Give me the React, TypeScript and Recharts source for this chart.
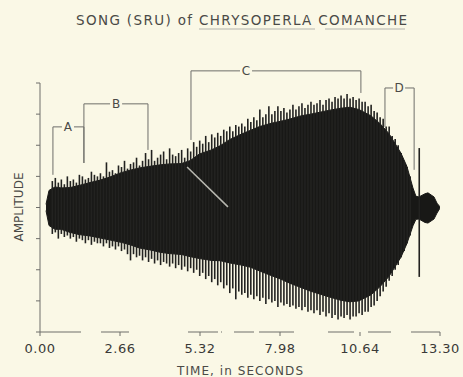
import React from 'react';
import { ComposedChart, Area, Bar, XAxis, YAxis, ReferenceLine, ReferenceDot } from 'recharts';

// Solid body of the waveform envelope (seconds, amplitude units)
const bodyTimes = [0.2, 0.3, 0.5, 0.7, 1.0, 1.3, 1.7, 2.0, 2.3, 2.7, 3.0, 3.3, 3.7, 4.0, 4.3, 4.7, 5.0, 5.3, 5.7, 6.0, 6.3, 6.7, 7.0, 7.3, 7.7, 8.0, 8.3, 8.7, 9.0, 9.3, 9.6, 10.0, 10.3, 10.6, 11.0, 11.3, 11.6, 12.0, 12.2, 12.4, 12.5, 12.6, 12.8, 12.9, 13.1, 13.2, 13.3];
const bodyTops = [0.1, 0.55, 0.66, 0.63, 0.64, 0.71, 0.81, 0.88, 0.97, 1.12, 1.2, 1.27, 1.33, 1.37, 1.4, 1.41, 1.51, 1.72, 1.85, 1.99, 2.18, 2.36, 2.48, 2.6, 2.71, 2.77, 2.84, 2.95, 3.0, 3.06, 3.12, 3.19, 3.22, 3.15, 2.95, 2.7, 2.38, 1.75, 1.32, 0.63, 0.36, 0.34, 0.44, 0.47, 0.34, 0.14, 0.02];
const bodyBottoms = [-0.1, -0.58, -0.7, -0.7, -0.8, -0.87, -0.92, -0.98, -1.04, -1.12, -1.2, -1.3, -1.37, -1.44, -1.48, -1.51, -1.58, -1.64, -1.7, -1.71, -1.78, -1.85, -1.92, -2.04, -2.19, -2.3, -2.43, -2.58, -2.69, -2.78, -2.87, -2.98, -3.03, -3.0, -2.81, -2.55, -2.22, -1.6, -1.16, -0.59, -0.38, -0.37, -0.48, -0.5, -0.37, -0.18, -0.02];

// Individual oscillation spikes (full vertical extent)
const spikeTimes = [
  0.4, 0.5, 0.6, 0.7, 0.8, 0.9,
  1.0, 1.1, 1.2, 1.3, 1.4, 1.5, 1.6, 1.7, 1.8, 1.9,
  2.0, 2.1, 2.2, 2.3, 2.4, 2.5, 2.6, 2.7, 2.8, 2.9,
  3.0, 3.1, 3.2, 3.3, 3.4, 3.5, 3.6, 3.7, 3.8, 3.9,
  4.0, 4.1, 4.2, 4.3, 4.4, 4.5, 4.6, 4.7, 4.8, 4.9,
  5.0, 5.1, 5.2, 5.3, 5.4, 5.5, 5.6, 5.7, 5.8, 5.9,
  6.0, 6.1, 6.2, 6.3, 6.4, 6.5, 6.6, 6.7, 6.8, 6.9,
  7.0, 7.1, 7.2, 7.3, 7.4, 7.5, 7.6, 7.7, 7.8, 7.9,
  8.0, 8.1, 8.2, 8.3, 8.4, 8.5, 8.6, 8.7, 8.8, 8.9,
  9.0, 9.1, 9.2, 9.3, 9.4, 9.5, 9.6, 9.7, 9.8, 9.9,
  10.0, 10.1, 10.2, 10.3, 10.4, 10.5, 10.6, 10.7, 10.8, 10.9,
  11.0, 11.1, 11.2, 11.3, 11.4, 11.5, 11.6, 11.7, 11.8, 11.9,
  12.0, 12.1, 12.2, 12.3, 12.6,
];
const spikeTops = [
  0.85, 0.95, 0.8, 0.9, 0.75, 1.0,
  0.85, 0.9, 0.8, 1.05, 1.0, 0.9, 0.95, 1.15, 1.05, 1.0,
  1.1, 1.0, 1.45, 1.15, 1.2, 1.1, 1.35, 1.3, 1.5, 1.25,
  1.4, 1.45, 1.6, 1.35, 1.5, 1.75, 1.55, 1.85, 1.5, 1.6,
  1.7, 1.8, 1.55, 1.9, 1.7, 1.65, 1.75, 1.85, 1.6, 1.9,
  1.8, 2.1, 1.95, 2.15, 2.05, 2.3, 2.1, 2.35, 2.25, 2.4,
  2.3, 2.5, 2.45, 2.6, 2.45, 2.65, 2.6, 2.7, 2.6, 2.85,
  2.75, 2.9, 2.8, 3.15, 2.9, 3.0, 3.25, 3.0, 3.1, 3.25,
  3.1, 3.2, 3.05, 3.15, 3.3, 3.15, 3.25, 3.35, 3.2, 3.3,
  3.4, 3.3, 3.35, 3.45, 3.3, 3.45, 3.5, 3.4, 3.55, 3.5,
  3.6, 3.5, 3.65, 3.5, 3.55, 3.45, 3.5, 3.4, 3.4, 3.25,
  3.3, 3.1, 3.05, 2.9, 2.85, 2.6, 2.6, 2.3, 2.2, 2.0,
  1.75, 1.5, 1.3, 1.0, 1.91,
];
const spikeBottoms = [
  -0.85, -0.8, -1.0, -0.85, -0.95, -0.9,
  -1.0, -0.95, -1.1, -1.0, -1.05, -1.15, -1.05, -1.2, -1.1, -1.15,
  -1.15, -1.25, -1.15, -1.3, -1.25, -1.35, -1.25, -1.4, -1.35, -1.5,
  -1.7, -1.5, -1.6, -1.55, -1.7, -1.6, -1.75, -1.65, -1.8, -1.7,
  -1.85, -1.75, -1.8, -1.9, -1.8, -1.95, -1.85, -2.0, -1.9, -2.05,
  -1.95, -2.1, -2.0, -2.2, -2.1, -2.3, -2.2, -2.4, -2.3, -2.5,
  -2.4, -2.6, -2.5, -2.75, -2.6, -2.95, -2.7, -2.8, -2.75, -2.9,
  -2.8, -2.95, -2.85, -3.0, -2.9, -3.1, -2.95, -3.05, -3.0, -3.2,
  -3.05, -3.15, -3.1, -3.2, -3.15, -3.25, -3.2, -3.3, -3.2, -3.35,
  -3.3, -3.4, -3.3, -3.45, -3.35, -3.5, -3.4, -3.55, -3.45, -3.6,
  -3.5, -3.55, -3.45, -3.6, -3.5, -3.5, -3.4, -3.45, -3.35, -3.35,
  -3.2, -3.15, -3.0, -2.85, -2.7, -2.55, -2.35, -2.2, -2.0, -1.85,
  -1.6, -1.4, -1.15, -0.9, -2.23,
];

const xTicks = [0, 2.66, 5.32, 7.98, 10.64, 13.3];
const yTicks = [-4, -3, -2, -1, 0, 1, 2, 3, 4];

// Song-phase brackets A-D
const bracketLabels = ['A', 'B', 'C', 'D'];
const bracketLeft = [0.43, 1.46, 5.02, 11.47];
const bracketRight = [1.46, 3.59, 10.67, 12.44];
const bracketTop = [2.59, 3.33, 4.39, 3.84];
const bracketLeftFoot = [1.05, 1.43, 2.17, 2.59];
const bracketRightFoot = [1.43, 1.85, 3.68, 1.21];
const bracketLabelAt = [0.93, 2.53, 6.85, 11.94];
const labelGap = 0.2;

// Pointer stroke across the waveform
const pointerTimes = [4.89, 6.25];
const pointerValues = [1.3, 0.02];

const rowMap = new Map<number, any>();
bodyTimes.forEach((t, i) => {
  const r = rowMap.get(t) || { t };
  r.body = [bodyBottoms[i], bodyTops[i]];
  rowMap.set(t, r);
});
spikeTimes.forEach((t, i) => {
  const r = rowMap.get(t) || { t };
  r.spike = [spikeBottoms[i], spikeTops[i]];
  rowMap.set(t, r);
});
const data = Array.from(rowMap.values()).sort((a, b) => a.t - b.t);

const BG = '#FAF8E6';
const INK = '#181816';
const LINE = '#6e6e6a';
const FONT = '"DejaVu Sans", Verdana, sans-serif';

export default function App() {
  const brackets: React.ReactNode[] = [];
  bracketLabels.forEach((lab, i) => {
    const l = bracketLeft[i];
    const r = bracketRight[i];
    const top = bracketTop[i];
    const c = bracketLabelAt[i];
    const common = { stroke: LINE, strokeWidth: 1, ifOverflow: 'visible' as const };
    brackets.push(
      <ReferenceLine key={`l${i}`} {...common} segment={[{ x: l, y: bracketLeftFoot[i] }, { x: l, y: top }]} />,
      <ReferenceLine key={`r${i}`} {...common} segment={[{ x: r, y: bracketRightFoot[i] }, { x: r, y: top }]} />,
      <ReferenceLine key={`h1${i}`} {...common} segment={[{ x: l, y: top }, { x: c - labelGap, y: top }]} />,
      <ReferenceLine key={`h2${i}`} {...common} segment={[{ x: c + labelGap, y: top }, { x: r, y: top }]} />,
      <ReferenceDot
        key={`d${i}`}
        x={c}
        y={top}
        r={0}
        ifOverflow="visible"
        label={{ value: lab, position: 'center', fill: '#4a4a46', fontSize: 12, fontFamily: FONT }}
      />
    );
  });

  return (
    <div style={{ position: 'absolute', left: 0, top: 0, width: 463, height: 377, background: BG, overflow: 'hidden' }}>
      <ComposedChart
        width={463}
        height={377}
        data={data}
        margin={{ top: 83, right: 23, bottom: 0, left: 0 }}
      >
        <XAxis
          dataKey="t"
          type="number"
          domain={[0, 13.3]}
          ticks={xTicks}
          allowDataOverflow
          height={45}
          tickFormatter={(v: number) => v.toFixed(2)}
          tickSize={4}
          tickMargin={8}
          axisLine={{ stroke: LINE, strokeDasharray: '41 20 28 59 30 3 1 12 20 5 35 34 26 14 23 20 30' }}
          tickLine={{ stroke: LINE }}
          tick={{ fontSize: 13, fill: '#3a3a38', fontFamily: FONT, letterSpacing: 0.5 }}
        />
        <YAxis
          type="number"
          domain={[-4, 4]}
          ticks={yTicks}
          allowDataOverflow
          width={40}
          tickSize={4}
          tickFormatter={() => ''}
          axisLine={{ stroke: LINE }}
          tickLine={{ stroke: LINE }}
        />
        <Area
          type="linear"
          dataKey="body"
          stroke={INK}
          strokeWidth={1}
          fill={INK}
          fillOpacity={1}
          connectNulls
          dot={false}
          activeDot={false}
          isAnimationActive={false}
        />
        <Bar dataKey="spike" barSize={1.6} fill="#222220" isAnimationActive={false} />
        <ReferenceLine
          stroke="#b8b8b0"
          strokeWidth={1.5}
          ifOverflow="visible"
          segment={[
            { x: pointerTimes[0], y: pointerValues[0] },
            { x: pointerTimes[1], y: pointerValues[1] },
          ]}
        />
        {brackets}
      </ComposedChart>
      <svg
        width={463}
        height={377}
        style={{ position: 'absolute', left: 0, top: 0, pointerEvents: 'none' }}
      >
        <text x={76} y={25} fontSize={13.5} fill="#4a4a46" fontFamily={FONT} textLength={331} lengthAdjust="spacing">
          SONG (SRU) of CHRYSOPERLA COMANCHE
        </text>
        <line x1={199} y1={29} x2={315} y2={29} stroke="#b4b4ac" strokeWidth={1} />
        <line x1={325} y1={29} x2={405} y2={29} stroke="#b4b4ac" strokeWidth={1} />
        <text x={177} y={375} fontSize={12} fill="#4a4a46" fontFamily={FONT} textLength={126} lengthAdjust="spacing">
          TIME, in SECONDS
        </text>
        <text
          x={23}
          y={207}
          fontSize={12}
          fill="#4a4a46"
          fontFamily={FONT}
          textAnchor="middle"
          transform="rotate(-90 23 207)"
        >
          AMPLITUDE
        </text>
      </svg>
    </div>
  );
}
